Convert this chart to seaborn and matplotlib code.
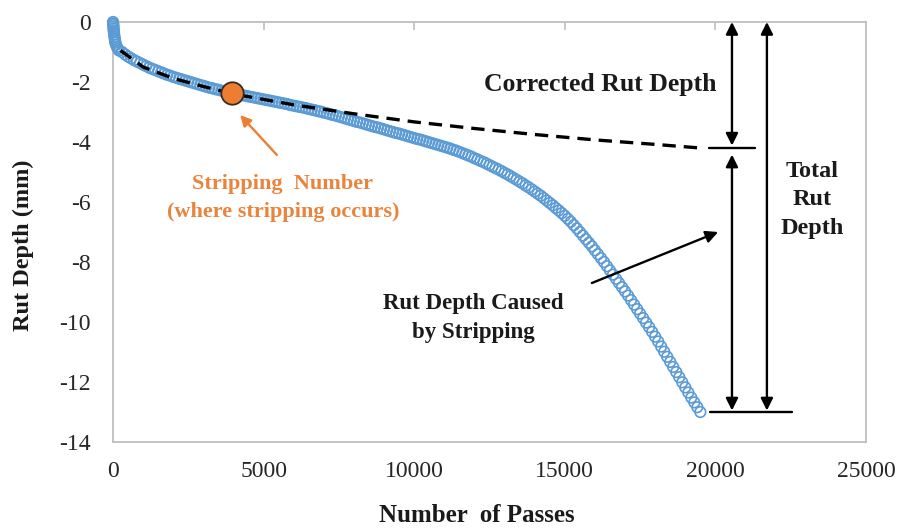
import matplotlib
matplotlib.use("Agg")
import matplotlib.pyplot as plt
import seaborn as sns
import pandas as pd

# ---------------- data ----------------
early_passes = [0, 5, 10, 15, 20, 25, 30, 40, 50, 60, 70, 80, 100, 130, 160, 200]
early_rut = [0.0, -0.05, -0.10, -0.16, -0.22, -0.28, -0.34, -0.42, -0.50, -0.57,
             -0.63, -0.69, -0.76, -0.83, -0.89, -0.95]

passes = list(range(300, 19501, 100))
rut = [
    -1.00, -1.08, -1.15, -1.21, -1.27, -1.32, -1.37, -1.42, -1.47, -1.52,
    -1.56, -1.60, -1.64, -1.68, -1.72, -1.76, -1.79, -1.83, -1.86, -1.89,
    -1.92, -1.95, -1.98, -2.01, -2.04, -2.07, -2.10, -2.13, -2.16, -2.19,
    -2.21, -2.24, -2.26, -2.29, -2.31, -2.34, -2.36, -2.38, -2.40, -2.42,
    -2.44, -2.46, -2.48, -2.50, -2.52, -2.54, -2.56, -2.58, -2.60, -2.62,
    -2.64, -2.66, -2.68, -2.70, -2.72, -2.74, -2.77, -2.79, -2.81, -2.83,
    -2.85, -2.87, -2.90, -2.92, -2.94, -2.97, -2.99, -3.02, -3.04, -3.07,
    -3.10, -3.12, -3.15, -3.18, -3.21, -3.24, -3.27, -3.30, -3.33, -3.35,
    -3.38, -3.41, -3.44, -3.47, -3.50, -3.52, -3.55, -3.58, -3.61, -3.64,
    -3.67, -3.70, -3.72, -3.75, -3.78, -3.81, -3.84, -3.87, -3.90, -3.92,
    -3.95, -3.98, -4.01, -4.04, -4.07, -4.10, -4.13, -4.16, -4.19, -4.22,
    -4.26, -4.29, -4.33, -4.37, -4.41, -4.45, -4.49, -4.54, -4.58, -4.63,
    -4.67, -4.72, -4.77, -4.82, -4.87, -4.92, -4.97, -5.03, -5.08, -5.14,
    -5.20, -5.26, -5.32, -5.38, -5.45, -5.51, -5.58, -5.65, -5.72, -5.79,
    -5.87, -5.95, -6.03, -6.11, -6.20, -6.28, -6.37, -6.46, -6.56, -6.66,
    -6.77, -6.88, -7.00, -7.12, -7.24, -7.36, -7.48, -7.61, -7.74, -7.87,
    -8.00, -8.14, -8.28, -8.42, -8.56, -8.70, -8.84, -8.98, -9.12, -9.27,
    -9.42, -9.57, -9.72, -9.87, -10.02, -10.17, -10.33, -10.49, -10.65, -10.82,
    -10.99, -11.16, -11.33, -11.50, -11.67, -11.84, -12.01, -12.18, -12.35, -12.52,
    -12.68, -12.84, -13.00,
]

fit_passes = [250, 1000, 2000, 3000, 4000, 6000, 8000, 10000, 12000, 14000, 16000, 18000, 19500]
fit_rut = [-0.95, -1.50, -1.88, -2.15, -2.40, -2.76, -3.06, -3.33, -3.55, -3.75, -3.93, -4.08, -4.20]

strip_passes = [3950]
strip_rut = [-2.38]

x_ticks = [0, 5000, 10000, 15000, 20000, 25000]
y_ticks = [0, -2, -4, -6, -8, -10, -12, -14]

# ---------------- style ----------------
sns.set_style("white")
plt.rcParams["font.family"] = ["Liberation Serif", "DejaVu Serif"]
plt.rcParams["axes.unicode_minus"] = False

BLUE = "#5B9BD5"
ORANGE = "#ED7D31"
GREY = "#BFBFBF"
INK = "#1a1a1a"

fig = plt.figure(figsize=(9.04, 5.29), dpi=100)
ax = fig.add_axes([113 / 904, 1 - 442 / 529, (866 - 113) / 904, (442 - 22) / 529])

curve = pd.DataFrame({"passes": early_passes + passes, "rut": early_rut + rut})
sns.scatterplot(data=curve, x="passes", y="rut", ax=ax, marker="o", s=58,
                facecolor="none", edgecolor=BLUE, linewidth=1.2, clip_on=False, zorder=3)

fit = pd.DataFrame({"passes": fit_passes, "rut": fit_rut})
sns.lineplot(data=fit, x="passes", y="rut", ax=ax, color="black", lw=2.4,
             linestyle=(0, (4, 2.4)), zorder=4)

strip = pd.DataFrame({"passes": strip_passes, "rut": strip_rut})
sns.scatterplot(data=strip, x="passes", y="rut", ax=ax, s=260, color=ORANGE,
                edgecolor="#3a2a20", linewidth=1.3, zorder=5)

ax.set_xlim(0, 25000)
ax.set_ylim(-14, 0)
ax.set_xticks(x_ticks)
ax.set_yticks(y_ticks)
ax.set_xticklabels([str(t) for t in x_ticks])
ax.set_yticklabels([str(t) for t in y_ticks])

for s in ax.spines.values():
    s.set_visible(True)
    s.set_color(GREY)
    s.set_linewidth(1.3)

ax.tick_params(axis="y", direction="out", length=7, width=1.2, color=GREY,
               labelsize=17, pad=9, labelcolor="#262626")
ax.tick_params(axis="x", direction="inout", length=10, width=1.2, color=GREY,
               labelsize=17, pad=9, labelcolor="#262626")
sec = ax.secondary_xaxis("top")
sec.set_xticks(x_ticks[1:-1])
sec.tick_params(direction="in", length=6, width=1.2, color=GREY, labeltop=False)
sec.spines["top"].set_visible(False)

ax.set_xlabel("Number  of Passes", fontsize=18, fontweight="bold", color=INK)
ax.set_ylabel("Rut Depth (mm)", fontsize=17.5, fontweight="bold", color=INK)
ax.xaxis.set_label_coords((477 - 113) / 753, -(515 - 442) / 420)
ax.yaxis.set_label_coords((23 - 113) / 753, (442 - 245) / 420)
ax.xaxis.label.set_va("center")
ax.yaxis.label.set_va("center")

# ---------------- annotations ----------------
arrow = dict(arrowstyle="<|-|>", color="black", lw=1.7, mutation_scale=18, shrinkA=0, shrinkB=0)
ax.annotate("", xy=(20550, -4.12), xytext=(20550, 0), arrowprops=arrow, annotation_clip=False)
ax.annotate("", xy=(20550, -12.95), xytext=(20550, -4.42), arrowprops=arrow, annotation_clip=False)
ax.annotate("", xy=(21710, -12.95), xytext=(21710, 0), arrowprops=arrow, annotation_clip=False)
ax.plot([19790, 21310], [-4.2, -4.2], color="black", lw=1.7, zorder=4)
ax.plot([19820, 22540], [-13.0, -13.0], color="black", lw=1.7, zorder=4)

ax.annotate("", xy=(20090, -7.0), xytext=(15900, -8.7),
            arrowprops=dict(arrowstyle="-|>", color="black", lw=1.7, mutation_scale=18,
                            shrinkA=0, shrinkB=0))
ax.annotate("", xy=(4220, -3.1), xytext=(5440, -4.43),
            arrowprops=dict(arrowstyle="-|>", color=ORANGE, lw=1.7, mutation_scale=16,
                            shrinkA=0, shrinkB=0))

ax.text(16170, -2.1, "Corrected Rut Depth", fontsize=18.5, fontweight="bold",
        ha="center", va="center", color=INK)
ax.text(23210, -5.93, "Total\nRut\nDepth", fontsize=17.5, fontweight="bold",
        ha="center", va="center", linespacing=1.45, color=INK)
ax.text(11950, -9.87, "Rut Depth Caused\nby Stripping", fontsize=16.5, fontweight="bold",
        ha="center", va="center", linespacing=1.45, color=INK)
ax.text(5640, -5.87, "Stripping  Number\n(where stripping occurs)", fontsize=16,
        fontweight="bold", ha="center", va="center", linespacing=1.5, color="#E8843C")

fig.savefig("out.png", dpi=100)
